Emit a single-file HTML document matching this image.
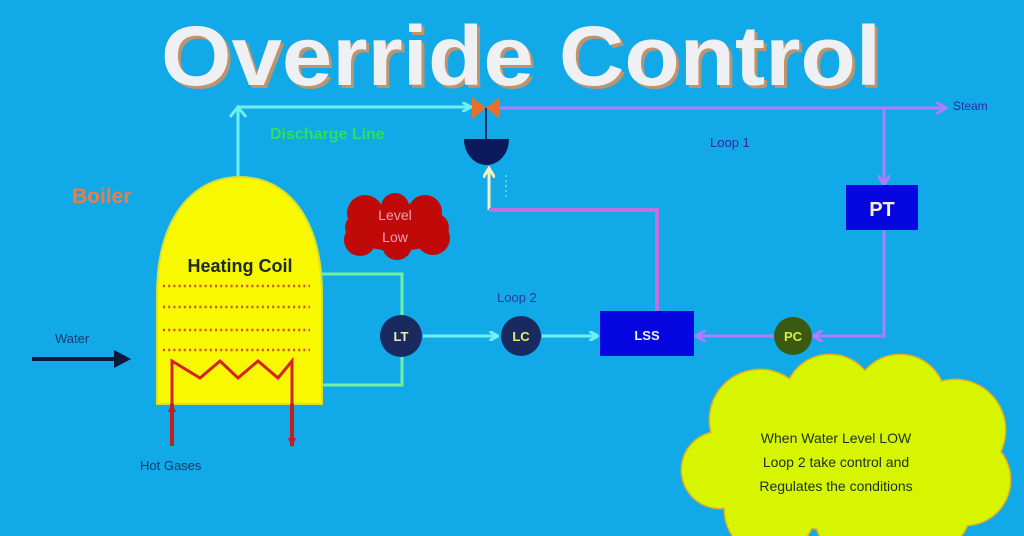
<!DOCTYPE html>
<html><head><meta charset="utf-8"><style>
html,body{margin:0;padding:0;background:#12a9e8;}
svg{display:block;}
text{font-family:"Liberation Sans",sans-serif;}
</style></head><body>
<svg width="1024" height="536" viewBox="0 0 1024 536">
<rect width="1024" height="536" fill="#12a9e8"/>
<defs>
<marker id="ac" markerWidth="10" markerHeight="10" refX="8" refY="5" orient="auto" markerUnits="userSpaceOnUse"><path d="M0,0 L9,5 L0,10" fill="none" stroke="#6ef0ee" stroke-width="3"/></marker>
<marker id="ap" markerWidth="12" markerHeight="12" refX="9" refY="6" orient="auto" markerUnits="userSpaceOnUse"><path d="M0,0 L10,6 L0,12" fill="none" stroke="#b07cff" stroke-width="3"/></marker>
<marker id="aw" markerWidth="12" markerHeight="12" refX="9" refY="6" orient="auto" markerUnits="userSpaceOnUse"><path d="M0,0 L10,6 L0,12" fill="none" stroke="#f4f0c0" stroke-width="3"/></marker>
<marker id="ar" markerWidth="10" markerHeight="10" refX="8" refY="5" orient="auto" markerUnits="userSpaceOnUse"><path d="M0,1 L9,5 L0,9 Z" fill="#c02020"/></marker>
</defs>
<!-- title -->
<text x="524" y="88" text-anchor="middle" font-size="84" font-weight="bold" fill="#e89050" opacity="0.8" textLength="720" lengthAdjust="spacingAndGlyphs">Override Control</text>
<text x="521" y="85" text-anchor="middle" font-size="84" font-weight="bold" fill="#eef0f4" textLength="720" lengthAdjust="spacingAndGlyphs">Override Control</text>

<!-- discharge line -->
<path d="M238,178 L238,107 L470,107" fill="none" stroke="#6ef0ee" stroke-width="3" marker-end="url(#ac)"/>
<path d="M230,117 L238,107 L246,117" fill="none" stroke="#6ef0ee" stroke-width="3"/>
<text x="270" y="139" font-size="16" font-weight="bold" fill="#2ee05a">Discharge Line</text>
<text x="72" y="203" font-size="21" font-weight="bold" fill="#e87f48">Boiler</text>

<!-- steam line -->
<line x1="500" y1="108" x2="945" y2="108" stroke="#b07cff" stroke-width="3" marker-end="url(#ap)"/>
<text x="953" y="110" font-size="12" fill="#2030a0">Steam</text>
<line x1="884" y1="108" x2="884" y2="184" stroke="#b07cff" stroke-width="3" marker-end="url(#ap)"/>
<text x="710" y="147" font-size="13" fill="#2a2aa0">Loop 1</text>

<!-- valve -->
<path d="M472,97 L486,108 L472,119 Z M500,97 L486,108 L500,119 Z" fill="#e8702a"/>
<line x1="486" y1="108" x2="486" y2="140" stroke="#1a2a70" stroke-width="2"/>
<path d="M464,139 L509,139 A22.5,26 0 0 1 464,139 Z" fill="#0a1a5a"/>
<line x1="489" y1="210" x2="489" y2="169" stroke="#f4f0c0" stroke-width="3" marker-end="url(#aw)"/>
<line x1="506" y1="175" x2="506" y2="200" stroke="#9ff" stroke-width="1" stroke-dasharray="2,3"/>
<path d="M489,210 L657,210 L657,311" fill="none" stroke="#c070e0" stroke-width="4"/>

<!-- PT -->
<rect x="846" y="185" width="72" height="45" fill="#0606e0"/>
<text x="882" y="216" text-anchor="middle" font-size="20" font-weight="bold" fill="#f6f2d0">PT</text>
<path d="M884,230 L884,336 L814,336" fill="none" stroke="#b07cff" stroke-width="3" marker-end="url(#ap)"/>
<circle cx="793" cy="336" r="19" fill="#3a5a12"/>
<text x="793" y="341" text-anchor="middle" font-size="13" font-weight="bold" fill="#d8f040">PC</text>
<line x1="774" y1="336" x2="697" y2="336" stroke="#b07cff" stroke-width="3" marker-end="url(#ap)"/>
<rect x="600" y="311" width="94" height="45" fill="#0606e0"/>
<text x="647" y="340" text-anchor="middle" font-size="13" font-weight="bold" fill="#f0f0e0">LSS</text>

<!-- loop 2 -->
<text x="497" y="302" font-size="13" fill="#2a3aa0">Loop 2</text>
<path d="M322,274 L402,274 L402,315 M402,357 L402,385 L322,385" fill="none" stroke="#70f0a0" stroke-width="3"/>
<circle cx="401" cy="336" r="21" fill="#1a2a60"/>
<text x="401" y="341" text-anchor="middle" font-size="13" font-weight="bold" fill="#f0f0b0">LT</text>
<line x1="423" y1="336" x2="497" y2="336" stroke="#6ef0ee" stroke-width="3" marker-end="url(#ac)"/>
<circle cx="521" cy="336" r="20" fill="#1a2a60"/>
<text x="521" y="341" text-anchor="middle" font-size="13" font-weight="bold" fill="#e0f070">LC</text>
<line x1="542" y1="336" x2="597" y2="336" stroke="#6ef0ee" stroke-width="3" marker-end="url(#ac)"/>

<!-- boiler -->
<path d="M157,404 L157,295 C157,215 195,177 240,177 C285,177 322,215 322,295 L322,404 Z" fill="#f8f800" stroke="#d8e030" stroke-width="2"/>
<text x="240" y="272" text-anchor="middle" font-size="18" font-weight="bold" fill="#1a2a20">Heating Coil</text>
<g stroke="#d05030" stroke-width="2.5" stroke-dasharray="2,3.2">
<line x1="163" y1="286" x2="310" y2="286"/><line x1="163" y1="307" x2="310" y2="307"/>
<line x1="163" y1="330" x2="310" y2="330"/><line x1="163" y1="350" x2="310" y2="350"/>
</g>
<path d="M172,404 L172,361 L200,378 L220,361 L238,378 L258,361 L278,378 L292,361 L292,404" fill="none" stroke="#d82020" stroke-width="3"/>
<line x1="172" y1="446" x2="172" y2="404" stroke="#c02020" stroke-width="4" marker-end="url(#ar)"/>
<line x1="292" y1="404" x2="292" y2="446" stroke="#c02020" stroke-width="4" marker-end="url(#ar)"/>
<text x="140" y="470" font-size="13" fill="#1a3a70">Hot Gases</text>
<text x="55" y="343" font-size="13" fill="#1a3a70">Water</text>
<line x1="32" y1="359" x2="118" y2="359" stroke="#0a1a3a" stroke-width="4"/>
<path d="M114,350 L131,359 L114,368 Z" fill="#0a1a3a"/>

<!-- level low cloud -->
<g fill="#c00a0a">
<ellipse cx="397" cy="227" rx="52" ry="24"/>
<circle cx="365" cy="213" r="18"/><circle cx="395" cy="207" r="14"/><circle cx="425" cy="212" r="17"/>
<circle cx="360" cy="240" r="16"/><circle cx="397" cy="245" r="15"/><circle cx="433" cy="238" r="17"/>
</g>
<text x="395" y="220" text-anchor="middle" font-size="14" fill="#f0a0b0">Level</text>
<text x="395" y="242" text-anchor="middle" font-size="14" fill="#f0a0b0">Low</text>

<!-- big cloud -->
<g id="cl">
<circle cx="760" cy="420" r="50"/><circle cx="830" cy="400" r="45"/><circle cx="900" cy="400" r="45"/>
<circle cx="955" cy="430" r="50"/><circle cx="720" cy="470" r="38"/><circle cx="965" cy="480" r="45"/>
<circle cx="770" cy="510" r="45"/><circle cx="860" cy="515" r="45"/><circle cx="930" cy="510" r="40"/>
<ellipse cx="845" cy="460" rx="140" ry="70"/>
</g>
<use href="#cl" fill="#d8f500" stroke="#e0b020" stroke-width="3"/>
<use href="#cl" fill="#d8f500"/>
<text x="836" y="443" text-anchor="middle" font-size="14" fill="#1a3020">When Water Level LOW</text>
<text x="836" y="467" text-anchor="middle" font-size="14" fill="#1a3020">Loop 2 take control and</text>
<text x="836" y="491" text-anchor="middle" font-size="14" fill="#1a3020">Regulates the conditions</text>
</svg>
</body></html>
